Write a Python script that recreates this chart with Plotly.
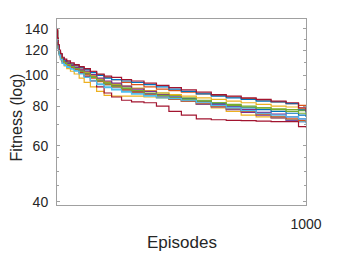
import plotly.graph_objects as go
import numpy as np

episodes = [1, 3, 6, 10, 15, 22, 30, 40, 55, 70, 90, 110, 135, 160, 190, 220,
            260, 300, 350, 400, 450, 500, 560, 620, 680, 740, 800, 860, 920, 970, 1000]

run01 = [138, 129, 122, 117, 114, 111, 109.5, 108, 106.5, 105, 103, 101, 98.5, 96, 93.5, 92, 90, 88.5, 87.5, 86.5, 85.5, 84.5, 83, 81.5, 80, 79, 78, 77, 76, 75, 74]
run02 = [140, 131, 124, 119, 116, 113, 111, 110, 108.5, 107.5, 106, 104.5, 102.5, 100.5, 98.5, 97, 95, 93.5, 92, 90.5, 89.5, 88.5, 87.5, 86.5, 85.5, 84.5, 83.5, 82.5, 81.5, 80.5, 80]
run03 = [139, 130, 122, 116, 112, 109, 107, 105, 103, 101, 98, 95, 92, 89, 86.5, 86, 86, 86, 85.5, 85, 84, 83, 81, 79, 77, 75, 74, 73.5, 72.5, 72, 71.5]
run04 = [137, 129, 122, 117, 114, 111, 109.5, 108, 106.5, 105, 103.5, 101.5, 99, 96.5, 94.5, 93, 91, 89, 87.5, 86, 84.5, 83, 81, 79.5, 78, 76.5, 75, 73.5, 72, 71.5, 71]
run05 = [139, 130, 123, 118, 115, 112, 110, 108.5, 107, 105.5, 104, 102, 99.5, 97, 95, 93.5, 92, 91, 89.5, 88, 86.5, 85, 83.5, 82, 80.5, 79.5, 79, 78.5, 78, 77.5, 77]
run06 = [138, 128, 121, 116, 112.5, 109.5, 108, 106.5, 105, 103.5, 101.5, 99, 96.5, 94, 92, 90.5, 89, 87.5, 86, 85, 84, 83, 81.5, 80, 78.5, 77, 75.5, 74, 72.5, 71.5, 70.5]
run07 = [138, 129, 122, 117, 113.5, 110.5, 109, 107.5, 106, 104.5, 102, 99.5, 96, 92, 88, 85.5, 83.5, 82.5, 82, 80, 77, 75, 73, 72.5, 72.2, 72, 71.8, 71.5, 71.5, 69, 68.5]
run08 = [138, 130, 124, 119, 116, 113, 111.5, 110, 108.5, 107, 105.5, 104, 102, 100, 98, 97, 96, 95, 93.5, 92, 90.5, 89, 87.5, 86, 85, 84, 83, 82.5, 81.5, 78, 76]
run09 = [140, 130, 122, 117, 113.5, 110.5, 109, 107.5, 106, 104.5, 102.5, 100.5, 98, 95.5, 93.5, 92, 90, 88.5, 87, 85.5, 84, 83, 81.5, 80, 78.5, 77, 75.5, 74, 73, 72, 71.5]
run10 = [137, 129, 122, 118, 115, 112, 110.5, 109, 107.5, 106, 104.5, 102.5, 100, 97.5, 95.5, 94, 92.5, 91, 89.5, 88, 87, 86, 85, 84, 83, 82, 81, 80, 79.5, 78.5, 78]
run11 = [139, 130, 123, 118, 115, 112, 110.5, 109, 107.5, 106, 104.5, 103, 100.5, 98, 96, 94.5, 92.5, 90.5, 89, 87, 85.5, 84, 82.5, 81, 79.5, 78, 76.5, 75.5, 74, 73, 72.5]
run12 = [138, 129, 122, 117, 114, 111, 109.5, 108, 106.5, 105, 103, 101, 98.5, 96, 94, 92.5, 91, 89.5, 88, 86.5, 85, 84, 83, 82, 81, 80, 79, 78, 77, 76, 75]
run13 = [137, 128, 121, 116, 112, 109, 107.5, 106, 104.5, 103, 101, 98.5, 96, 93.5, 91.5, 90, 88.5, 87.5, 86.5, 85.5, 84.5, 83.5, 82, 80.5, 79, 77.5, 76, 75, 74, 73, 72]
run14 = [139, 131, 125, 120, 117, 114, 112.5, 111, 109.5, 108, 106.5, 105, 103, 101, 99.5, 98.5, 97, 96, 94.5, 93, 91.5, 90, 88.5, 87, 86, 85, 84, 83, 82, 79, 77]

runs = [run01, run02, run03, run04, run05, run06, run07,
        run08, run09, run10, run11, run12, run13, run14]

# matlab default colour order
colours = ['#0072BD', '#D95319', '#EDB120', '#7E2F8E', '#77AC30', '#4DBEEE', '#A2142F']

fig = go.Figure()
for i, r in enumerate(runs):
    fig.add_trace(go.Scatter(x=episodes, y=r, mode='lines', line_shape='hv',
                             line=dict(color=colours[i % 7], width=1.2),
                             showlegend=False, hoverinfo='skip'))

# page body has an 8px margin, so the figure is 8px smaller each way
fig.update_layout(
    width=330, height=246,
    margin=dict(l=49, r=32, t=11, b=49),
    plot_bgcolor='white', paper_bgcolor='white',
    font=dict(family='Liberation Sans, Arial', color='#262626', size=14),
    xaxis=dict(range=[1, 1000], tickvals=[1000], ticktext=['1000'],
               ticks='inside', ticklen=3, tickcolor='#a0a0a0', ticklabelstandoff=6,
               showgrid=False, zeroline=False, showline=True, linecolor='#a0a0a0',
               linewidth=1, mirror=True, automargin=False),
    yaxis=dict(type='log', range=[np.log10(39.1), np.log10(150.4)],
               tickvals=[40, 60, 80, 100, 120, 140],
               ticks='inside', ticklen=3, tickcolor='#a0a0a0', ticklabelstandoff=5,
               minor=dict(tickvals=[45, 50, 55, 70, 90, 110, 130], ticks='inside',
                          ticklen=2, tickcolor='#a0a0a0'),
               showgrid=False, zeroline=False, showline=True, linecolor='#a0a0a0',
               linewidth=1, mirror='ticks', automargin=False),
    annotations=[
        dict(text='Episodes', xref='paper', yref='paper', x=0.5, y=-0.204,
             xanchor='center', yanchor='middle', showarrow=False, font=dict(size=17)),
        dict(text='Fitness (log)', xref='paper', yref='paper', x=-0.162, y=0.468,
             xanchor='center', yanchor='middle', textangle=-90, showarrow=False,
             font=dict(size=16)),
    ],
)

fig.write_html("out.html")
